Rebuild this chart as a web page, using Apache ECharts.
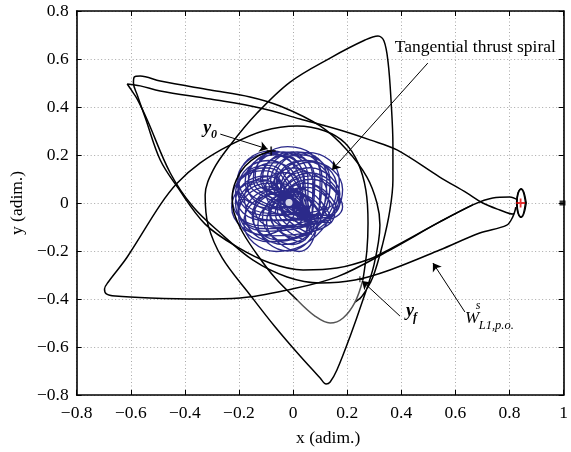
<!DOCTYPE html>
<html><head><meta charset="utf-8">
<script src="https://cdn.jsdelivr.net/npm/echarts@6/dist/echarts.min.js"></script>
<style>html,body{margin:0;padding:0;background:#fff}#c{width:571px;height:452px}</style>
</head><body><div id="c"></div>
<script>
const xTickLabels = ['\u22120.8','\u22120.6','\u22120.4','\u22120.2','0','0.2','0.4','0.6','0.8','1'];
const yTickLabels = ['\u22120.8','\u22120.6','\u22120.4','\u22120.2','0','0.2','0.4','0.6','0.8'];

// Tangential thrust spiral (blue), read loop by loop: right, top, left, bottom of each revolution
const spiralPts = [
[0.040,0.020],[0.000,0.060],[-0.040,0.020],[0.000,-0.020],
[0.002,0.032],[-0.048,0.082],[-0.098,0.032],[-0.048,-0.018],
[0.068,-0.008],[0.008,0.052],[-0.052,-0.008],[0.008,-0.068],
[0.028,0.062],[-0.037,0.127],[-0.102,0.062],[-0.037,-0.003],
[0.050,-0.030],[-0.020,0.040],[-0.090,-0.030],[-0.020,-0.100],
[0.076,0.071],[0.001,0.146],[-0.074,0.071],[0.001,-0.004],
[0.018,-0.022],[-0.062,0.058],[-0.142,-0.022],[-0.062,-0.102],
[0.125,0.045],[0.040,0.130],[-0.045,0.045],[0.040,-0.040],
[0.000,0.020],[-0.090,0.110],[-0.180,0.020],[-0.090,-0.070],
[0.135,-0.007],[0.045,0.083],[-0.045,-0.007],[0.045,-0.097],
[0.022,0.073],[-0.073,0.168],[-0.168,0.073],[-0.073,-0.022],
[0.104,-0.049],[0.009,0.046],[-0.086,-0.049],[0.009,-0.144],
[0.080,0.100],[-0.020,0.200],[-0.120,0.100],[-0.020,0.000],
[0.049,-0.054],[-0.051,0.046],[-0.151,-0.054],[-0.051,-0.154],
[0.137,0.077],[0.037,0.177],[-0.063,0.077],[0.037,-0.023],
[0.006,-0.013],[-0.099,0.092],[-0.204,-0.013],[-0.099,-0.118],
[0.170,0.020],[0.065,0.125],[-0.040,0.020],[0.065,-0.085],
[0.006,0.053],[-0.099,0.158],[-0.204,0.053],[-0.099,-0.052],
[0.173,0.037],[0.063,0.147],[-0.047,0.037],[0.063,-0.073],
[0.007,0.037],[-0.103,0.147],[-0.213,0.037],[-0.103,-0.073],
[0.161,-0.027],[0.051,0.083],[-0.059,-0.027],[0.051,-0.137],
[0.043,0.091],[-0.067,0.201],[-0.177,0.091],[-0.067,-0.019],
[0.107,-0.063],[-0.003,0.047],[-0.113,-0.063],[-0.003,-0.173],
[0.107,0.103],[-0.003,0.213],[-0.113,0.103],[-0.003,-0.007],
[0.043,-0.051],[-0.067,0.059],[-0.177,-0.051],[-0.067,-0.161],
[0.161,0.067],[0.051,0.177],[-0.059,0.067],[0.051,-0.043],
[0.007,0.003],[-0.103,0.113],[-0.213,0.003],[-0.103,-0.107],
[0.173,0.003],[0.063,0.113],[-0.047,0.003],[0.063,-0.107],
[0.019,0.067],[-0.091,0.177],[-0.201,0.067],[-0.091,-0.043],
[0.137,-0.051],[0.027,0.059],[-0.083,-0.051],[0.027,-0.161],
[0.073,0.103],[-0.037,0.213],[-0.147,0.103],[-0.037,-0.007],
[0.073,-0.063],[-0.037,0.047],[-0.147,-0.063],[-0.037,-0.173],
[0.137,0.091],[0.027,0.201],[-0.083,0.091],[0.027,-0.019],
[0.019,-0.027],[-0.091,0.083],[-0.201,-0.027],[-0.091,-0.137],
[0.154,-0.044],[0.044,0.066],[-0.066,-0.044],[0.044,-0.154],
[0.055,0.103],[-0.055,0.213],[-0.165,0.103],[-0.055,-0.007],
[0.090,-0.090],[-0.020,0.020],[-0.130,-0.090],[-0.020,-0.200],
[0.125,0.103],[0.015,0.213],[-0.095,0.103],[0.015,-0.007],
[0.028,-0.047],[-0.087,0.068],[-0.202,-0.047],[-0.087,-0.162],
[0.183,0.056],[0.068,0.171],[-0.047,0.056],[0.068,-0.059],
[0.005,0.020],[-0.110,0.135],[-0.225,0.020],[-0.110,-0.095],
[0.183,-0.016],[0.068,0.099],[-0.047,-0.016],[0.068,-0.131],
[0.033,0.087],[-0.087,0.207],[-0.207,0.087],[-0.087,-0.033],
[0.142,-0.082],[0.022,0.038],[-0.098,-0.082],[0.022,-0.202],
[0.100,0.115],[-0.020,0.235],[-0.140,0.115],[-0.020,-0.005],
[0.058,-0.082],[-0.062,0.038],[-0.182,-0.082],[-0.062,-0.202],
[0.171,0.091],[0.051,0.211],[-0.069,0.091],[0.051,-0.029],
[0.003,-0.018],[-0.112,0.097],[-0.227,-0.018],[-0.112,-0.133],
[0.039,0.097],[-0.081,0.217],[-0.201,0.097],[-0.081,-0.023],
[0.039,0.097],[-0.081,0.217]
];

// Stable manifold branches and transfer (black)
const manifoldA = [
[0.823,-0.017],[0.812,-0.046],[0.764,-0.029],[0.701,0.000],[0.642,0.042],[0.542,0.108],[0.384,0.221],[0.284,0.263],
[0.173,0.304],[0.026,0.350],[-0.122,0.396],[-0.306,0.433],[-0.491,0.467],[-0.565,0.488],[-0.613,0.496],[-0.598,0.471],
[-0.576,0.433],[-0.539,0.346],[-0.454,0.125],[-0.369,-0.017],[-0.269,-0.125],[-0.148,-0.238],[-0.022,-0.308],[0.100,-0.333],
[0.229,-0.321],[0.358,-0.279],[0.542,-0.196],[0.690,-0.125],[0.790,-0.092],[0.812,-0.058],[0.823,-0.021]
];
const transferStart = [
[-0.081,0.217],[-0.129,0.196],[-0.177,0.154],[-0.210,0.096],[-0.225,0.025],[-0.218,-0.042],[-0.185,-0.125],
[-0.129,-0.221],[-0.066,-0.313],[0.015,-0.404]
];
const transferGrey = [
[0.015,-0.404],[0.081,-0.471],[0.137,-0.500],[0.185,-0.479],[0.229,-0.413],[0.258,-0.321]
];
const manifoldB = [
[0.258,-0.321],[0.273,-0.196],[0.277,-0.083],[0.269,0.054],[0.240,0.167],[0.192,0.250],[0.118,0.300],[0.015,0.321],
[-0.111,0.300],[-0.232,0.242],[-0.343,0.167],[-0.428,0.083],[-0.491,-0.008],[-0.613,-0.225],[-0.683,-0.329],
[-0.697,-0.358],[-0.690,-0.379],[-0.657,-0.388],[-0.528,-0.396],[-0.343,-0.400],[-0.196,-0.396],[-0.022,-0.363],
[0.162,-0.308],[0.358,-0.196],[0.542,-0.079],[0.664,-0.008],[0.738,0.021],[0.801,0.025],[0.830,0.013]
];
const manifoldC = [
[0.664,-0.008],[0.542,-0.079],[0.358,-0.192],[0.284,-0.233],[0.162,-0.271],[0.037,-0.279],[-0.085,-0.250],
[-0.207,-0.183],[-0.325,-0.088],[-0.428,0.067],[-0.491,0.179],[-0.546,0.354],[-0.576,0.450],[-0.590,0.500],
[-0.587,0.525],[-0.565,0.529],[-0.491,0.508],[-0.306,0.471],[-0.159,0.442],[-0.048,0.404],[0.100,0.321],
[0.199,0.221],[0.273,0.108],[0.310,0.000],[0.321,-0.092],[0.299,-0.258],[0.258,-0.404],[0.210,-0.558],
[0.162,-0.696],[0.137,-0.746],[0.122,-0.754],[0.100,-0.729],[0.026,-0.638],[-0.066,-0.517],[-0.159,-0.383],
[-0.262,-0.229],[-0.314,-0.092],[-0.325,0.033],[-0.295,0.138],[-0.232,0.242],[-0.133,0.375],[-0.011,0.504],
[0.137,0.604],[0.266,0.679],[0.314,0.696],[0.336,0.675],[0.351,0.588],[0.362,0.429],[0.369,0.242],[0.369,0.096],
[0.358,-0.029],[0.332,-0.167],[0.295,-0.308],[0.255,-0.388],[0.229,-0.413]
];
// L1 periodic orbit
const l1OrbitA = [[0.862,0.000],[0.844,0.060],[0.826,0.000],[0.844,-0.060],[0.862,0.000]];
const l1OrbitB = [[0.859,0.002],[0.843,0.057],[0.828,0.002],[0.843,-0.058],[0.859,0.002]];

const y0Pt = [-0.081,0.217];
const yfPt = [0.247,-0.318];
const earthPt = [-0.015,0.002];
const moonPt = [0.996,0.000];
const l1Pt = [0.841,0.000];

const arrows = [
  {from:[0.498,0.583], to:[0.144,0.138]},
  {from:[-0.269,0.287], to:[-0.094,0.225]},
  {from:[0.395,-0.471], to:[0.255,-0.325]},
  {from:[0.635,-0.454], to:[0.517,-0.250]}
];
const notes = [
  {text:'Tangential thrust spiral', at:[0.376,0.650], font:'17.5px "Liberation Serif"'},
  {text:'y', at:[-0.332,0.3125], font:'italic bold 18px "Liberation Serif"'},
  {text:'0', at:[-0.303,0.283], font:'italic bold 12px "Liberation Serif"'},
  {text:'y', at:[0.417,-0.450], font:'italic bold 18px "Liberation Serif"'},
  {text:'f', at:[0.443,-0.479], font:'italic bold 12px "Liberation Serif"'},
  {text:'W', at:[0.635,-0.483], font:'italic 17px "Liberation Serif"'},
  {text:'s', at:[0.675,-0.429], font:'italic 12px "Liberation Serif"'},
  {text:'L1,p.o.', at:[0.686,-0.5125], font:'italic 12.5px "Liberation Serif"'}
];

const chart = echarts.init(document.getElementById('c'), null, {renderer:'canvas'});
const axisCol = '#000';
const plus = 'path://M4,0H6V4H10V6H6V10H4V6H0V4H4Z';
function blk(data, color, w, z, s){
  return {type:'line', data:data, showSymbol:false, smooth:(s||0.35), xAxisIndex:0, yAxisIndex:0,
    lineStyle:{color:color, width:w}, z:z, silent:true};
}
function xl(v){ return xTickLabels[Math.round((v+0.8)/0.2)]; }
function yl(v){ return yTickLabels[Math.round((v+0.8)/0.2)]; }
const ft = 'Liberation Serif';
const option = {
  animation:false,
  backgroundColor:'#fff',
  textStyle:{fontFamily:ft},
  grid:{left:76,right:7,top:11,bottom:57},
  xAxis:[
    {type:'value',min:-0.8,max:1,interval:0.2,position:'bottom',
     axisLine:{onZero:false,lineStyle:{color:axisCol,width:1.6}},
     axisTick:{inside:true,length:5,lineStyle:{color:axisCol,width:1}},
     axisLabel:{color:'#000',fontSize:17.5,fontFamily:ft,margin:9,formatter:xl},
     splitLine:{show:true,lineStyle:{color:'#a8a8a8',width:1,type:[1,2.5]}},
     name:'x (adim.)',nameLocation:'middle',nameGap:34,
     nameTextStyle:{color:'#000',fontSize:17.5,fontFamily:ft,padding:[0,0,0,16]}},
    {type:'value',min:-0.8,max:1,interval:0.2,position:'top',
     axisLine:{onZero:false,lineStyle:{color:axisCol,width:1.6}},
     axisTick:{inside:true,length:5,lineStyle:{color:axisCol,width:1}},
     axisLabel:{show:false},splitLine:{show:false}}
  ],
  yAxis:[
    {type:'value',min:-0.8,max:0.8,interval:0.2,position:'left',
     axisLine:{onZero:false,lineStyle:{color:axisCol,width:1.6}},
     axisTick:{inside:true,length:5,lineStyle:{color:axisCol,width:1}},
     axisLabel:{color:'#000',fontSize:17.5,fontFamily:ft,margin:8,formatter:yl},
     splitLine:{show:true,lineStyle:{color:'#a8a8a8',width:1,type:[1,2.5]}},
     name:'y (adim.)',nameLocation:'middle',nameGap:50,nameRotate:90,
     nameTextStyle:{color:'#000',fontSize:17.5,fontFamily:ft}},
    {type:'value',min:-0.8,max:0.8,interval:0.2,position:'right',
     axisLine:{onZero:false,lineStyle:{color:axisCol,width:1.6}},
     axisTick:{inside:true,length:5,lineStyle:{color:axisCol,width:1}},
     axisLabel:{show:false},splitLine:{show:false}}
  ],
  series:[
    {type:'line', data:spiralPts, showSymbol:false, smooth:0.552, lineStyle:{color:'#2b2a8a',width:1.35}, z:2, silent:true},
    blk(manifoldA,'#000',1.5,3),
    blk(manifoldB,'#000',1.5,3),
    blk(manifoldC,'#000',1.5,3),
    blk(transferStart,'#000',1.5,3),
    blk(transferGrey,'#555',1.5,4),
    blk(l1OrbitA,'#000',1.4,3,0.552),
    blk(l1OrbitB,'#000',1.4,3,0.552),
    {type:'lines', coordinateSystem:'cartesian2d', xAxisIndex:0, yAxisIndex:0,
     data:arrows.map(a=>({coords:[a.from,a.to]})),
     symbol:['none','arrow'], symbolSize:[0,8],
     lineStyle:{color:'#000',width:1,opacity:1,curveness:0}, z:6, silent:true},
    {type:'scatter', data:[earthPt], symbol:'circle', symbolSize:7, itemStyle:{color:'#fff'}, z:7, silent:true},
    {type:'scatter', data:[y0Pt], symbol:plus, symbolSize:9, itemStyle:{color:'#000'}, z:7, silent:true},
    {type:'scatter', data:[yfPt], symbol:plus, symbolSize:6, itemStyle:{color:'#000'}, z:7, silent:true},
    {type:'scatter', data:[l1Pt], symbol:plus, symbolSize:9, itemStyle:{color:'#e00000'}, z:7, silent:true},
    {type:'scatter', data:[moonPt], symbol:'rect', symbolSize:[6,5], itemStyle:{color:'#000'}, z:7, silent:true}
  ]
};
chart.setOption(option);
const g = notes.map(n=>{
  const p = chart.convertToPixel({gridIndex:0}, n.at);
  return {type:'text', x:p[0], y:p[1], z:10, style:{text:n.text, font:n.font, fill:'#000', align:'left', verticalAlign:'middle'}};
});
chart.setOption({graphic:g});
</script></body></html>
